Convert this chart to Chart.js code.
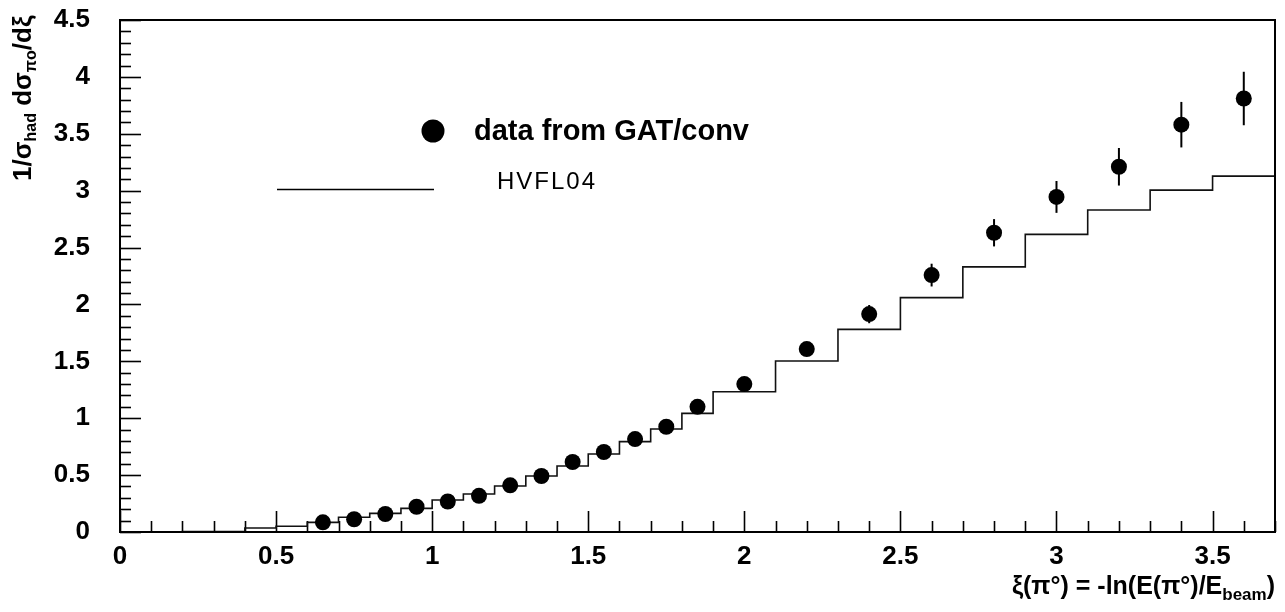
<!DOCTYPE html>
<html>
<head>
<meta charset="utf-8">
<script src="https://cdn.jsdelivr.net/npm/chart.js@4.4.1/dist/chart.umd.min.js"></script>
<style>
  html, body { margin: 0; padding: 0; background: #fff; }
  #wrap { width: 1285px; height: 612px; }
</style>
</head>
<body>
<div id="wrap"><canvas id="c" width="1285" height="612"></canvas></div>
<script>
// Measured pi0 spectrum: bin centres, values and statistical errors
const xiPoints = [0.65, 0.75, 0.85, 0.95, 1.05, 1.15, 1.25, 1.35, 1.45, 1.55, 1.65, 1.75, 1.85,
                  2.0, 2.2, 2.4, 2.6, 2.8, 3.0, 3.2, 3.4, 3.6];
const dataValues = [0.085, 0.112, 0.158, 0.222, 0.268, 0.318, 0.41, 0.492, 0.615, 0.703, 0.817, 0.925, 1.10,
                    1.30, 1.608, 1.915, 2.258, 2.63, 2.945, 3.21, 3.58, 3.81];
const dataErrors = [0.01, 0.01, 0.012, 0.012, 0.015, 0.015, 0.018, 0.02, 0.022, 0.025, 0.028, 0.03, 0.035,
                    0.04, 0.05, 0.08, 0.1, 0.12, 0.14, 0.165, 0.2, 0.235];

// HVFL04 prediction as a histogram: bin edges and bin contents
const binEdges = [0, 0.2, 0.4, 0.5, 0.6, 0.7, 0.8, 0.9, 1.0, 1.1, 1.2, 1.3, 1.4, 1.5, 1.6, 1.7, 1.8, 1.9,
                  2.1, 2.3, 2.5, 2.7, 2.9, 3.1, 3.3, 3.5, 3.7];
const modelValues = [0, 0.005, 0.035, 0.05, 0.085, 0.13, 0.164, 0.208, 0.281, 0.334, 0.404, 0.492, 0.58,
                     0.685, 0.794, 0.905, 1.043, 1.233, 1.503, 1.781, 2.06, 2.33, 2.616, 2.83, 3.005, 3.128];

// Axis ranges and tick labels
const xRange = [0, 3.7];
const yRange = [0, 4.5];
const xTickLabels = ['0', '0.5', '1', '1.5', '2', '2.5', '3', '3.5'];
const yTickLabels = ['0', '0.5', '1', '1.5', '2', '2.5', '3', '3.5', '4', '4.5'];

const legendData = 'data from GAT/conv';
const legendModel = 'HVFL04';

// step outline: one point per lower edge, plus the final upper edge
const histPoints = modelValues.map((v, i) => ({ x: binEdges[i], y: v }));
histPoints.push({ x: binEdges[binEdges.length - 1], y: modelValues[modelValues.length - 1] });

const dataPoints = xiPoints.map((x, i) => ({ x: x, y: dataValues[i] }));

const SANS = '"Liberation Sans", Arial, Helvetica, sans-serif';

function labelFor(list, value) {
  const hit = list.find(s => Math.abs(parseFloat(s) - value) < 1e-6);
  return hit === undefined ? '' : hit;
}

function drawRuns(ctx, runs, x0, baseline, align) {
  ctx.save();
  ctx.textBaseline = 'alphabetic';
  ctx.textAlign = 'left';
  ctx.fillStyle = '#000';
  let total = 0;
  runs.forEach(r => { ctx.font = 'bold ' + r.size + 'px ' + SANS; r.w = ctx.measureText(r.t).width; total += r.w; });
  let x = align === 'right' ? x0 - total : x0;
  runs.forEach(r => {
    ctx.font = 'bold ' + r.size + 'px ' + SANS;
    ctx.fillText(r.t, x, baseline + r.dy);
    x += r.w;
  });
  ctx.restore();
}

// frame, inward ticks, error bars, legend and axis titles
const framePlugin = {
  id: 'frame',
  beforeDatasetsDraw(chart) {
    const { ctx, chartArea: a, scales: { x, y } } = chart;
    ctx.save();
    ctx.strokeStyle = '#000';
    ctx.lineWidth = 1.6;
    for (let k = 0; k <= 37; k++) {
      const px = Math.round(x.getPixelForValue(k / 10)) + 0.5;
      const len = (k % 5 === 0) ? 21 : 11;
      ctx.beginPath(); ctx.moveTo(px, a.bottom); ctx.lineTo(px, a.bottom - len); ctx.stroke();
    }
    for (let k = 0; k <= 45; k++) {
      const py = Math.round(y.getPixelForValue(k / 10)) + 0.5;
      const len = (k % 5 === 0) ? 21 : 11;
      ctx.beginPath(); ctx.moveTo(a.left, py); ctx.lineTo(a.left + len, py); ctx.stroke();
    }
    ctx.lineWidth = 2;
    xiPoints.forEach((xv, i) => {
      const px = x.getPixelForValue(xv);
      ctx.beginPath();
      ctx.moveTo(px, y.getPixelForValue(dataValues[i] - dataErrors[i]));
      ctx.lineTo(px, y.getPixelForValue(dataValues[i] + dataErrors[i]));
      ctx.stroke();
    });
    ctx.restore();
  },
  afterDraw(chart) {
    const { ctx, chartArea: a } = chart;
    ctx.save();
    ctx.strokeStyle = '#000';
    ctx.lineWidth = 2;
    ctx.strokeRect(a.left, a.top, a.right - a.left, a.bottom - a.top);

    // legend
    ctx.fillStyle = '#000';
    ctx.beginPath(); ctx.arc(433, 131, 11.5, 0, Math.PI * 2); ctx.fill();
    ctx.font = 'bold 29px ' + SANS;
    ctx.textBaseline = 'middle';
    ctx.textAlign = 'left';
    ctx.fillText(legendData, 474, 132);
    ctx.lineWidth = 1.5;
    ctx.beginPath(); ctx.moveTo(277, 189.5); ctx.lineTo(434, 189.5); ctx.stroke();
    ctx.font = '24px ' + SANS;
    ctx.textBaseline = 'alphabetic';
    ctx.letterSpacing = '2px';
    ctx.fillText(legendModel, 497, 189);
    ctx.letterSpacing = '0px';

    // x axis title, right aligned to the frame
    drawRuns(ctx, [
      { t: 'ξ(π°) = -ln(E(π°)/E', size: 25, dy: 0 },
      { t: 'beam', size: 17, dy: 6 },
      { t: ')', size: 25, dy: 0 }
    ], a.right, 594, 'right');

    // y axis title, rotated
    ctx.translate(31, 181);
    ctx.rotate(-Math.PI / 2);
    drawRuns(ctx, [
      { t: '1/σ', size: 26, dy: 0 },
      { t: 'had', size: 16, dy: 5 },
      { t: ' dσ', size: 26, dy: 0 },
      { t: 'πo', size: 16, dy: 5 },
      { t: '/dξ', size: 26, dy: 0 }
    ], 0, 0, 'left');
    ctx.restore();
  }
};

new Chart(document.getElementById('c'), {
  data: {
    datasets: [
      {
        type: 'scatter',
        label: legendData,
        data: dataPoints,
        pointRadius: 8,
        pointHoverRadius: 8,
        pointBackgroundColor: '#000',
        pointBorderColor: '#000',
        pointBorderWidth: 0,
        order: 0
      },
      {
        type: 'line',
        label: legendModel,
        data: histPoints,
        stepped: 'before',
        borderColor: '#111',
        borderWidth: 1.6,
        pointRadius: 0,
        fill: false,
        order: 1
      }
    ]
  },
  options: {
    responsive: false,
    animation: false,
    events: [],
    layout: { padding: { top: 20, right: 10, left: 0, bottom: 0 } },
    plugins: { legend: { display: false }, tooltip: { enabled: false } },
    scales: {
      x: {
        type: 'linear',
        min: xRange[0], max: xRange[1],
        grid: { display: false, drawTicks: false },
        border: { display: false },
        ticks: {
          stepSize: 0.5, includeBounds: false, padding: 9, color: '#000',
          font: { family: SANS, size: 26, weight: 'bold' },
          maxRotation: 0, autoSkip: false,
          callback: v => labelFor(xTickLabels, v)
        },
        afterFit: s => { s.height = 80; }
      },
      y: {
        type: 'linear',
        min: yRange[0], max: yRange[1],
        grid: { display: false, drawTicks: false },
        border: { display: false },
        ticks: {
          stepSize: 0.5, includeBounds: false, padding: 30, color: '#000',
          font: { family: SANS, size: 26, weight: 'bold' },
          callback: v => labelFor(yTickLabels, v)
        },
        afterFit: s => { s.width = 120; s.paddingTop = 0; s.paddingBottom = 0; }
      }
    }
  },
  plugins: [framePlugin]
});
</script>
</body>
</html>
